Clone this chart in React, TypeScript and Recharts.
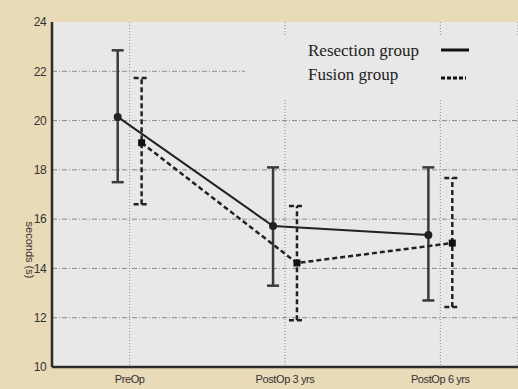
import * as React from "react";
import {
  ComposedChart,
  Line,
  ErrorBar,
  XAxis,
  YAxis,
  CartesianGrid,
  ReferenceLine,
} from "recharts";

const categories = ["PreOp", "PostOp 3 yrs", "PostOp 6 yrs"];
const resectionMean = [20.15, 15.72, 15.36];
const resectionHigh = [22.85, 18.1, 18.1];
const resectionLow = [17.5, 13.3, 12.7];
const fusionMean = [19.1, 14.22, 15.03];
const fusionHigh = [21.73, 16.53, 17.67];
const fusionLow = [16.6, 11.9, 12.43];
const yTicks = [10, 12, 14, 16, 18, 20, 22, 24];
const gridLevels = [12, 14, 16, 18, 20, 22];

const OFFSET = 0.077;
const catTicks = categories.map((_, i) => i + 0.5);

const build = (mean: number[], hi: number[], lo: number[], shift: number) =>
  mean.map((m, i) => ({
    x: i + 0.5 + shift,
    y: m,
    err: [m - lo[i], hi[i] - m],
  }));

const resectionData = build(resectionMean, resectionHigh, resectionLow, -OFFSET);
const fusionData = build(fusionMean, fusionHigh, fusionLow, OFFSET);

const BEIGE = "#e9dab8";
const PLOT = "#e8e8e8";
const INK = "#2b2b2b";

function SquareDot(props: { cx?: number; cy?: number }) {
  const { cx, cy } = props;
  if (cx == null || cy == null) return null;
  return <rect x={cx - 3.5} y={cy - 3.5} width={7} height={7} fill="#111" />;
}

// legend drawn as an overlay box, it hides the grid behind it like the original
function LegendBox() {
  const txt: React.CSSProperties = {
    position: "absolute",
    left: 63,
    fontFamily: "'Liberation Serif', serif",
    fontSize: 17,
    color: "#222",
    whiteSpace: "nowrap",
    lineHeight: "20px",
  };
  return (
    <div
      style={{
        position: "absolute",
        left: 245,
        top: 35,
        width: 275,
        height: 65,
        background: PLOT,
      }}
    >
      <div style={{ ...txt, top: 6 }}>Resection group</div>
      <div style={{ ...txt, top: 30 }}>Fusion group</div>
      <svg width={275} height={65} style={{ position: "absolute", left: 0, top: 0 }}>
        <line x1={196} x2={224} y1={15} y2={15} stroke="#111" strokeWidth={3} />
        <line x1={196} x2={221} y1={43} y2={43} stroke="#111" strokeWidth={3} strokeDasharray="4 2" />
      </svg>
    </div>
  );
}

export default function App() {
  return (
    <div
      style={{
        position: "absolute",
        left: 0,
        top: 0,
        width: 518,
        height: 389,
        background: BEIGE,
        overflow: "hidden",
      }}
    >
      <ComposedChart
        width={518}
        height={389}
        margin={{ top: 22, right: 0, left: 0, bottom: 0 }}
      >
        <CartesianGrid
          fill={PLOT}
          horizontal={false}
          stroke="#8a8a8a"
          strokeDasharray="1 2"
        />
        {gridLevels.map((v) => (
          <ReferenceLine
            key={v}
            y={v}
            stroke="#8a8a8a"
            strokeDasharray="5 2 1 2"
          />
        ))}
        <XAxis
          dataKey="x"
          type="number"
          domain={[0, 3]}
          ticks={catTicks}
          tickFormatter={(v: number) => categories[Math.round(v - 0.5)] ?? ""}
          axisLine={{ stroke: INK, strokeWidth: 2.5 }}
          tickLine={false}
          tickSize={5}
          tickMargin={3}
          height={22}
          tick={{ fontSize: 11, fill: "#333", fontFamily: "'Liberation Sans', Arial", letterSpacing: -0.4 }}
          allowDataOverflow
        />
        <YAxis
          type="number"
          domain={[10, 24]}
          ticks={yTicks}
          width={52}
          axisLine={{ stroke: INK, strokeWidth: 2.5 }}
          tickLine={false}
          tickSize={4}
          tickMargin={2}
          tick={{ fontSize: 12, fill: "#333", fontFamily: "'Liberation Sans', Arial", letterSpacing: -0.6 }}
          label={{
            content: () => (
              <text
                x={29}
                y={250}
                transform="rotate(90 29 250)"
                textAnchor="middle"
                dominantBaseline="middle"
                fontSize={11}
                fill="#333"
                fontFamily="'Liberation Sans', Arial"
              >
                seconds (s)
              </text>
            ),
          }}
        />
        <Line
          data={resectionData}
          dataKey="y"
          name="Resection group"
          type="linear"
          stroke="#222"
          strokeWidth={2}
          dot={{ r: 3, fill: "#222", stroke: "#222" }}
          activeDot={false}
          isAnimationActive={false}
        >
          <ErrorBar
            dataKey="err"
            direction="y"
            width={6}
            stroke="#3a3a3a"
            strokeWidth={2.5}
            isAnimationActive={false}
          />
        </Line>
        <Line
          data={fusionData}
          dataKey="y"
          name="Fusion group"
          type="linear"
          stroke="#222"
          strokeWidth={2.5}
          strokeDasharray="5 3"
          dot={<SquareDot />}
          activeDot={false}
          isAnimationActive={false}
        >
          <ErrorBar
            dataKey="err"
            direction="y"
            width={8}
            stroke="#222"
            strokeWidth={2.5}
            strokeDasharray="5 3"
            isAnimationActive={false}
          />
        </Line>
      </ComposedChart>
      <LegendBox />
    </div>
  );
}
